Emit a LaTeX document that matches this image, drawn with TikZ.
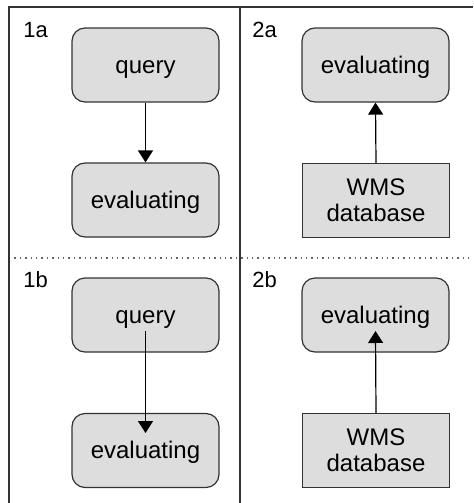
\documentclass[tikz,border=0pt]{standalone}
\usepackage{fontspec}
\setmainfont{Liberation Sans}
\usetikzlibrary{arrows.meta}
\definecolor{boxfill}{HTML}{DDDDDD}
\definecolor{lineclr}{HTML}{333333}
\tikzset{
  rbox/.style={draw=lineclr, line width=0.6pt, fill=boxfill, rounded corners=6.5pt,
    minimum width=73.5pt, minimum height=37pt, inner sep=0pt,
    font=\fontsize{12}{13}\selectfont, text height=1em, text depth=0.2em},
  dbbox/.style={draw=lineclr, line width=0.6pt, fill=boxfill,
    minimum width=73.5pt, minimum height=37pt, inner sep=0pt, align=center,
    font=\fontsize{12}{13}\selectfont},
  panellabel/.style={anchor=base west, inner sep=0pt, font=\fontsize{11}{12}\selectfont},
  flow/.style={draw=black, line width=0.6pt, -{Triangle[width=7.5pt,length=6pt]}},
  frame/.style={draw=lineclr, line width=1pt},
  divider/.style={draw=lineclr, line width=0.7pt},
  sep/.style={draw=gray!80!black, line width=0.7pt, dotted}
}
\begin{document}
\begin{tikzpicture}[x=0.5pt,y=-0.5pt]
\useasboundingbox (0,0) rectangle (473,503);
% frame and dividers
\coordinate (tl) at (9,7);
\coordinate (tr) at (473,7);
\coordinate (bl) at (9,503);
\coordinate (vt) at (240,7);
\coordinate (vb) at (240,503);
\coordinate (hl) at (9,258);
\coordinate (hr) at (473,258);
\draw[sep] (hl) -- (hr);
\draw[frame] (bl) -- (tl) -- (tr);
\draw[divider] (vt) -- (vb);
% labels
\node[panellabel] (l1a) at (23,37) {1a};
\node[panellabel] (l2a) at (252,37) {2a};
\node[panellabel] (l1b) at (23,287) {1b};
\node[panellabel] (l2b) at (252,287) {2b};
% panel 1a
\node[rbox] (q1a) at (145.5,65) {query};
\node[rbox] (e1a) at (145.5,200) {evaluating};
\draw[flow] (q1a.south) -- (e1a.north);
% panel 2a
\node[rbox] (e2a) at (375.5,65) {evaluating};
\node[dbbox] (w2a) at (376,200.5) {WMS\\database};
\draw[flow] (w2a.north) -- (e2a.south);
% panel 1b
\node[rbox] (q1b) at (145.5,315) {query};
\node[rbox] (e1b) at (145.5,450.5) {evaluating};
\coordinate (s1b) at ([yshift=-8pt]q1b.center);
\coordinate (t1b) at ([yshift=8.75pt]e1b.center);
\draw[flow] (s1b) -- (t1b);
% panel 2b
\node[rbox] (e2b) at (375.5,315) {evaluating};
\node[dbbox] (w2b) at (376,450.5) {WMS\\database};
\coordinate (t2b) at ([yshift=-8pt]e2b.center);
\draw[flow] (w2b.north) -- (t2b);
\end{tikzpicture}
\end{document}
